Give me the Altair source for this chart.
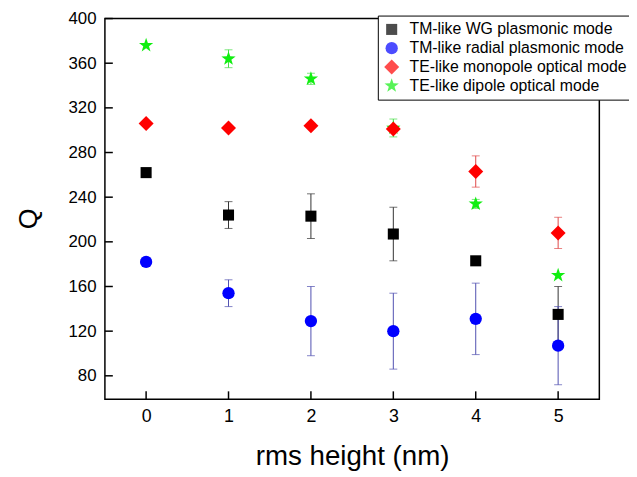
import altair as alt
import pandas as pd

# ---- data ----
x_vals = [0, 1, 2, 3, 4, 5]
series_names = [
    "TM-like WG plasmonic mode",
    "TM-like radial plasmonic mode",
    "TE-like monopole optical mode",
    "TE-like dipole optical mode",
]
wg_q = [262, 224, 223, 207, 183, 135]
wg_err = [0, 12, 20, 24, 0, 25]
radial_q = [182, 154, 129, 120, 131, 107]
radial_err = [0, 12, 31, 34, 32, 35]
mono_q = [306, 302, 304, 301, 263, 208]
mono_err = [0, 0, 0, 0, 14, 14]
dipole_q = [376, 364, 346, 302, 234, 170]
dipole_err = [0, 8, 5, 8, 4, 0]

y_ticks = [80, 120, 160, 200, 240, 280, 320, 360, 400]
x_ticks = [0, 1, 2, 3, 4, 5]

STAR = ("M0,-1L0.235,-0.324L0.951,-0.309L0.38,0.124L0.588,0.809L0,0.4"
        "L-0.588,0.809L-0.38,0.124L-0.951,-0.309L-0.235,-0.324Z")

marker_colors = ["#000000", "#0000FF", "#FF0000", "#11EE11"]
err_colors = ["#333333", "#5050B0", "#E04848", "#44DD44"]
shapes = ["square", "circle", "diamond", STAR]
sizes = [125, 155, 230, 230]

W, H = 500, 385
FONT = "Liberation Sans"

q_lists = [wg_q, radial_q, mono_q, dipole_q]
e_lists = [wg_err, radial_err, mono_err, dipole_err]

rows = []
for si in [3, 0, 1, 2]:
    for xv, qv, ev in zip(x_vals, q_lists[si], e_lists[si]):
        rows.append({"series": series_names[si], "x": xv, "q": qv, "err": ev,
                     "lo": qv - ev, "hi": qv + ev, "ecol": err_colors[si]})
df = pd.DataFrame(rows)
df_err = df[df["err"] > 0].copy()
caps = pd.concat([
    df_err.assign(q=df_err["lo"]),
    df_err.assign(q=df_err["hi"]),
])

xscale = alt.Scale(domain=[-0.5, 5.5], nice=False, zero=False)
yscale = alt.Scale(domain=[59, 400], nice=False, zero=False)

legend = alt.Legend(
    orient="none", legendX=276, legendY=-3, title=None,
    labelFont=FONT, labelFontSize=16, labelColor="black", labelLimit=400,
    strokeColor="black", fillColor="white", padding=6,
    rowPadding=3, labelOffset=10, symbolStrokeWidth=0, symbolOpacity=1,
)

x_axis = alt.Axis(values=x_ticks, format="d", title="rms height (nm)",
                  titleFontSize=28, titleY=66, titleBaseline="alphabetic",
                  labelPadding=9, labelFontSize=18)
y_axis = alt.Axis(values=y_ticks, title="Q", titleFontSize=27,
                  titleX=-77, titleY=202, titleAngle=270,
                  titleAlign="center", titleBaseline="middle",
                  labelPadding=9, labelFontSize=17)

err_rules = alt.Chart(df_err).mark_rule(strokeWidth=1).encode(
    x=alt.X("x:Q", scale=xscale, axis=x_axis),
    y=alt.Y("lo:Q", scale=yscale, axis=y_axis),
    y2="hi:Q",
    color=alt.Color("ecol:N", scale=None),
)

err_caps = alt.Chart(caps).mark_tick(orient="horizontal", size=8, thickness=1).encode(
    x=alt.X("x:Q", scale=xscale),
    y=alt.Y("q:Q", scale=yscale),
    color=alt.Color("ecol:N", scale=None),
)

points = alt.Chart(df).mark_point(filled=True, opacity=1, strokeWidth=0).encode(
    x=alt.X("x:Q", scale=xscale),
    y=alt.Y("q:Q", scale=yscale),
    color=alt.Color("series:N", scale=alt.Scale(domain=series_names, range=marker_colors), legend=legend),
    shape=alt.Shape("series:N", scale=alt.Scale(domain=series_names, range=shapes), legend=legend),
    size=alt.Size("series:N", scale=alt.Scale(type="ordinal", domain=series_names, range=sizes), legend=legend),
)

ytick_df = pd.DataFrame({"q": y_ticks})
xtick_df = pd.DataFrame({"x": x_ticks})

ytick_marks = alt.Chart(ytick_df).mark_rule(color="black", strokeWidth=1.5).encode(
    y=alt.Y("q:Q", scale=yscale),
    x=alt.value(0), x2=alt.value(8),
)
xtick_marks = alt.Chart(xtick_df).mark_rule(color="black", strokeWidth=1.5).encode(
    x=alt.X("x:Q", scale=xscale),
    y=alt.value(H), y2=alt.value(H - 8),
)

chart = alt.layer(err_rules, err_caps, ytick_marks, xtick_marks, points).properties(
    width=W, height=H,
    background="white",
    autosize=alt.AutoSizeParams(type="none"),
    padding={"left": 98, "top": 8, "right": 30, "bottom": 80},
).configure_view(
    stroke="black", strokeWidth=1.5,
).configure_axis(
    labelFont=FONT, titleFont=FONT, labelColor="black", titleColor="black",
    titleFontWeight="normal", grid=False, ticks=False, domain=False,
)

chart.save("out.html", embed_options={"renderer": "svg", "actions": False})
